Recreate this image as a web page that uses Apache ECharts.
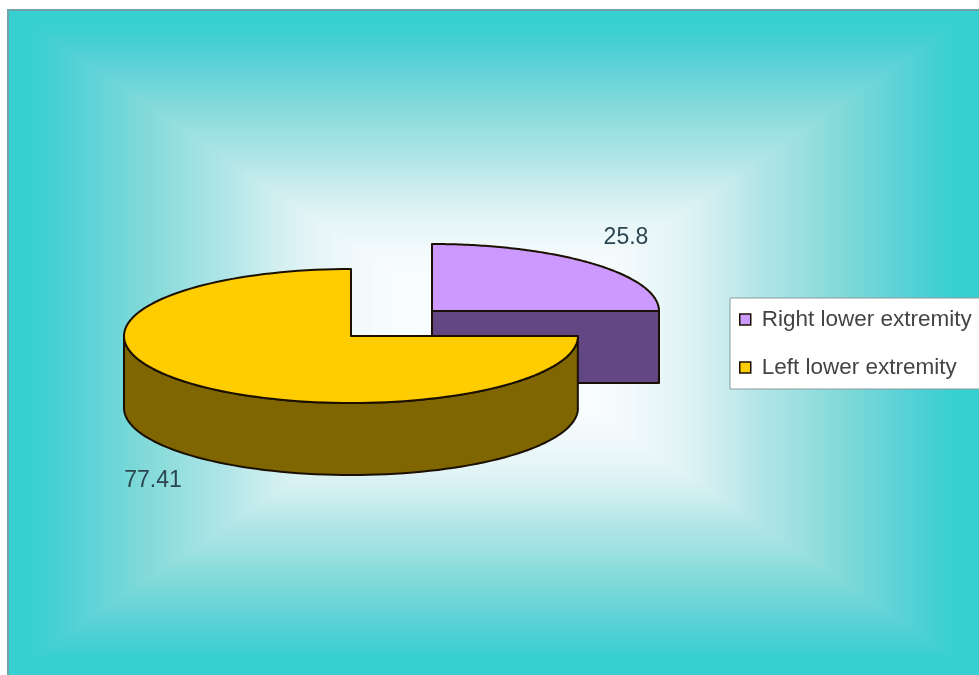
<!DOCTYPE html>
<html>
<head>
<meta charset="utf-8">
<style>html,body{margin:0;padding:0;background:#fff}#chart{width:979px;height:675px}</style>
<script src="https://cdn.jsdelivr.net/npm/echarts@6/dist/echarts.min.js"></script>
</head>
<body>
<div id="chart"></div>
<script>
// Share of lesions by limb
const categories = ['Right lower extremity', 'Left lower extremity'];
const values = [25.8, 77.41];
const topColors = ['#CC99FF', '#FFCC00'];
const wallColors = ['#634785', '#806600'];

// Layout of the tilted pie
const centers = [[432, 311], [351, 336]];
const radiusX = 227, radiusY = 67, depth = 72;
const labelAnchors = [[626, 238], [153, 481]];

const total = values.reduce((a, b) => a + b, 0);
const starts = values.map((_, i) => values.slice(0, i).reduce((a, b) => a + b, 0) / total * Math.PI * 2);

// Point on the slice rim; angle runs clockwise from twelve o'clock
function rim(c, a, dy) {
  return [c[0] + radiusX * Math.sin(a), c[1] - radiusY * Math.cos(a) + (dy || 0)];
}

function sliceRenderer(i) {
  return function (params, api) {
    const c = centers[i];
    const a0 = starts[i];
    const a1 = a0 + api.value(0) / total * Math.PI * 2;
    const steps = 120;
    const arc = [];
    for (let k = 0; k <= steps; k++) arc.push(a0 + (a1 - a0) * k / steps);
    const line = { stroke: '#1a1000', lineWidth: 2, lineJoin: 'round' };
    const children = [];

    // Flat cut face of the first slice, looking towards the viewer
    if (a0 === 0 && a1 <= Math.PI) {
      const p = rim(c, a1);
      children.push({
        type: 'polygon',
        shape: { points: [c, p, [p[0], p[1] + depth], [c[0], c[1] + depth]] },
        style: Object.assign({ fill: wallColors[i] }, line)
      });
    }

    // Outer wall, only on the front half of the rim
    const front = arc.filter(a => a >= Math.PI / 2 && a <= Math.PI * 1.5);
    if (front.length) {
      const upper = front.map(a => rim(c, a));
      const lower = front.map(a => rim(c, a, depth)).reverse();
      children.push({
        type: 'polygon',
        shape: { points: upper.concat(lower) },
        style: Object.assign({ fill: wallColors[i] }, line)
      });
    }

    // Top face
    children.push({
      type: 'polygon',
      shape: { points: [c].concat(arc.map(a => rim(c, a))) },
      style: Object.assign({ fill: topColors[i] }, line)
    });

    // Value label
    children.push({
      type: 'text',
      style: {
        x: labelAnchors[i][0], y: labelAnchors[i][1],
        text: String(api.value(0)),
        fill: '#2b4650',
        font: '23px "Liberation Sans", Arial, sans-serif',
        align: 'center', verticalAlign: 'middle'
      }
    });
    return { type: 'group', children: children };
  };
}

// Rectangular shaded backdrop: nested bands from the rim towards the centre
const shadeStops = [
  [0, [255, 255, 255]], [0.25, [246, 251, 253]], [0.37, [230, 245, 247]],
  [0.46, [208, 238, 240]], [0.56, [175, 229, 230]], [0.64, [155, 224, 226]],
  [0.73, [127, 217, 216]], [0.83, [95, 211, 216]], [0.9, [72, 208, 212]],
  [0.96, [54, 208, 208]], [1, [54, 208, 208]]
];
function shade(t) {
  for (let k = 1; k < shadeStops.length; k++) {
    if (t <= shadeStops[k][0]) {
      const [t0, c0] = shadeStops[k - 1], [t1, c1] = shadeStops[k];
      const f = (t - t0) / (t1 - t0);
      return 'rgb(' + c0.map((v, j) => Math.round(v + (c1[j] - v) * f)).join(',') + ')';
    }
  }
  return 'rgb(54,208,208)';
}
const panel = { x: 8, y: 10, w: 971, h: 665 };
const bands = [];
const bandCount = 110;
for (let b = 0; b < bandCount; b++) {
  const t = 1 - b / bandCount;
  bands.push({
    type: 'rect', silent: true, z: 0,
    shape: {
      x: panel.x + panel.w / 2 * (1 - t), y: panel.y + panel.h / 2 * (1 - t),
      width: panel.w * t, height: panel.h * t
    },
    style: { fill: shade(t) }
  });
}
bands.push(
  { type: 'rect', silent: true, z: 1, shape: { x: 7, y: 9, width: 972, height: 2 }, style: { fill: '#6fa3a8' } },
  { type: 'rect', silent: true, z: 1, shape: { x: 7, y: 9, width: 2, height: 666 }, style: { fill: '#6fa3a8' } }
);

const chart = echarts.init(document.getElementById('chart'), null, { renderer: 'canvas' });
chart.setOption({
  animation: false,
  backgroundColor: '#ffffff',
  graphic: bands,
  legend: {
    orient: 'vertical',
    left: 730, top: 298,
    data: categories.map((name, i) => ({
      name: name,
      icon: 'rect',
      itemStyle: { color: topColors[i], borderColor: '#1a1000', borderWidth: 1.5 }
    })),
    itemWidth: 11, itemHeight: 11, itemGap: 25,
    padding: [10, 20, 10, 9],
    backgroundColor: '#ffffff',
    borderColor: '#8a9a9c', borderWidth: 1,
    textStyle: { fontFamily: '"Liberation Sans", Arial, sans-serif', fontSize: 22.5, color: '#444444', padding: [0, 0, 0, 6] }
  },
  series: categories.map((name, i) => ({
    type: 'custom',
    name: name,
    coordinateSystem: 'none',
    renderItem: sliceRenderer(i),
    data: [[values[i]]],
    itemStyle: { color: topColors[i] },
    z: 2 + i
  }))
});
</script>
</body>
</html>
